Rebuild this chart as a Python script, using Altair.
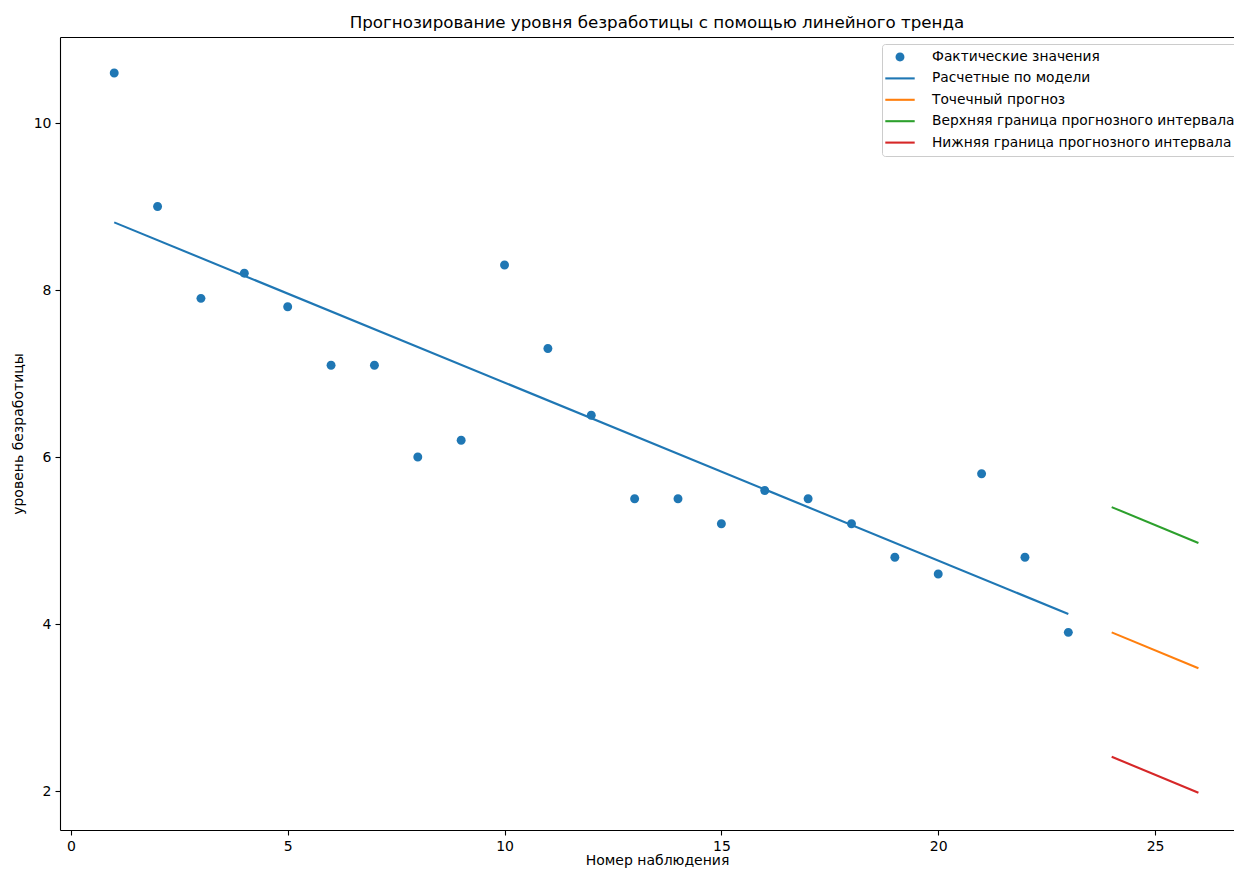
import altair as alt
import pandas as pd

# --- data ---
obs_x = [1, 2, 3, 4, 5, 6, 7, 8, 9, 10, 11, 12, 13, 14, 15, 16, 17, 18, 19, 20, 21, 22, 23]
obs_y = [10.6, 9.0, 7.9, 8.2, 7.8, 7.1, 7.1, 6.0, 6.2, 8.3, 7.3, 6.5, 5.5, 5.5, 5.2, 5.6,
         5.5, 5.2, 4.8, 4.6, 5.8, 4.8, 3.9]

fit_x = [1, 23]
fit_y = [8.81, 4.12]

fc_x = [24, 26]
fc_point = [3.90, 3.47]
fc_upper = [5.40, 4.97]
fc_lower = [2.41, 1.98]

S_OBS = "Фактические значения"
S_FIT = "Расчетные по модели"
S_PT = "Точечный прогноз"
S_UP = "Верхняя граница прогнозного интервала"
S_LO = "Нижняя граница прогнозного интервала"

series = [S_OBS, S_FIT, S_PT, S_UP, S_LO]
colors = ["#1f77b4", "#1f77b4", "#ff7f0e", "#2ca02c", "#d62728"]

x_ticks = [0, 5, 10, 15, 20, 25]
y_ticks = [2, 4, 6, 8, 10]

title = "Прогнозирование уровня безработицы с помощью линейного тренда"
x_title = "Номер наблюдения"
y_title = "уровень безработицы"

# --- tables ---
obs_df = pd.DataFrame({"x": obs_x, "y": obs_y, "series": S_OBS})
line_rows = []
for name, xs, ys in [(S_FIT, fit_x, fit_y), (S_PT, fc_x, fc_point),
                     (S_UP, fc_x, fc_upper), (S_LO, fc_x, fc_lower)]:
    for xv, yv in zip(xs, ys):
        line_rows.append({"x": xv, "y": yv, "series": name})
line_df = pd.DataFrame(line_rows)

FONT = "DejaVu Sans"
circle_path = "M0.64,0A0.64,0.64,0,1,1,-0.64,0A0.64,0.64,0,1,1,0.64,0Z"
line_path = "M-2.1,-0.15H2.1V0.15H-2.1Z"

legend = alt.Legend(
    orient="none", legendX=822, legendY=7, title=None,
    padding=6, symbolSize=196, symbolOffset=5, labelOffset=25,
    rowPadding=7.4, labelFont=FONT, labelFontSize=13.8, labelColor="#000000",
    labelLimit=500, strokeColor="#cccccc", fillColor="#ffffff",
    cornerRadius=3, symbolStrokeWidth=0,
)

color_scale = alt.Scale(domain=series, range=colors)
shape_scale = alt.Scale(domain=series, range=[circle_path] + [line_path] * 4)

x_scale = alt.Scale(domain=[-0.25, 26.82], nice=False, zero=False)
y_scale = alt.Scale(domain=[1.533, 11.03], nice=False, zero=False)

points = alt.Chart(obs_df).mark_point(filled=True, size=196, opacity=1).encode(
    x=alt.X("x:Q", scale=x_scale,
            axis=alt.Axis(values=x_ticks, format="d", title=x_title,
                          titleX=597, titleY=34, titleAlign="center",
                          titleBaseline="alphabetic")),
    y=alt.Y("y:Q", scale=y_scale,
            axis=alt.Axis(values=y_ticks, format="d", title=y_title, titlePadding=8)),
    color=alt.Color("series:N", scale=color_scale, legend=legend),
    shape=alt.Shape("series:N", scale=shape_scale, legend=legend),
)

# line layer also carries the top spine (axis with domain only)
lines = alt.Chart(line_df).mark_line(strokeWidth=2.1).encode(
    x=alt.X("x:Q", scale=x_scale,
            axis=alt.Axis(orient="top", labels=False, ticks=False, title=None, domain=True)),
    y=alt.Y("y:Q", scale=y_scale),
    color=alt.Color("series:N", scale=color_scale, legend=None),
)

chart = alt.layer(points, lines).resolve_axis(x="independent").properties(
    width=1174, height=793,
    title=alt.TitleParams(title, font=FONT, fontSize=16.7, fontWeight="normal",
                          color="#000000", anchor="middle", baseline="bottom", offset=6,
                          dx=10, dy=18),
    autosize=alt.AutoSizeParams(type="none"),
    padding={"left": 52, "top": 29, "right": 0, "bottom": 38},
).configure_view(
    stroke="transparent", strokeWidth=0
).configure_axis(
    grid=False, domain=True, domainColor="#000000", domainWidth=1.1,
    labelFont=FONT, labelFontSize=14, labelColor="#000000",
    tickSize=5, tickColor="#000000", tickWidth=1.1, labelPadding=4,
    titleFont=FONT, titleFontSize=14, titleFontWeight="normal", titleColor="#000000",
)

chart.save("out.html", embed_options={"renderer": "svg", "actions": False})
